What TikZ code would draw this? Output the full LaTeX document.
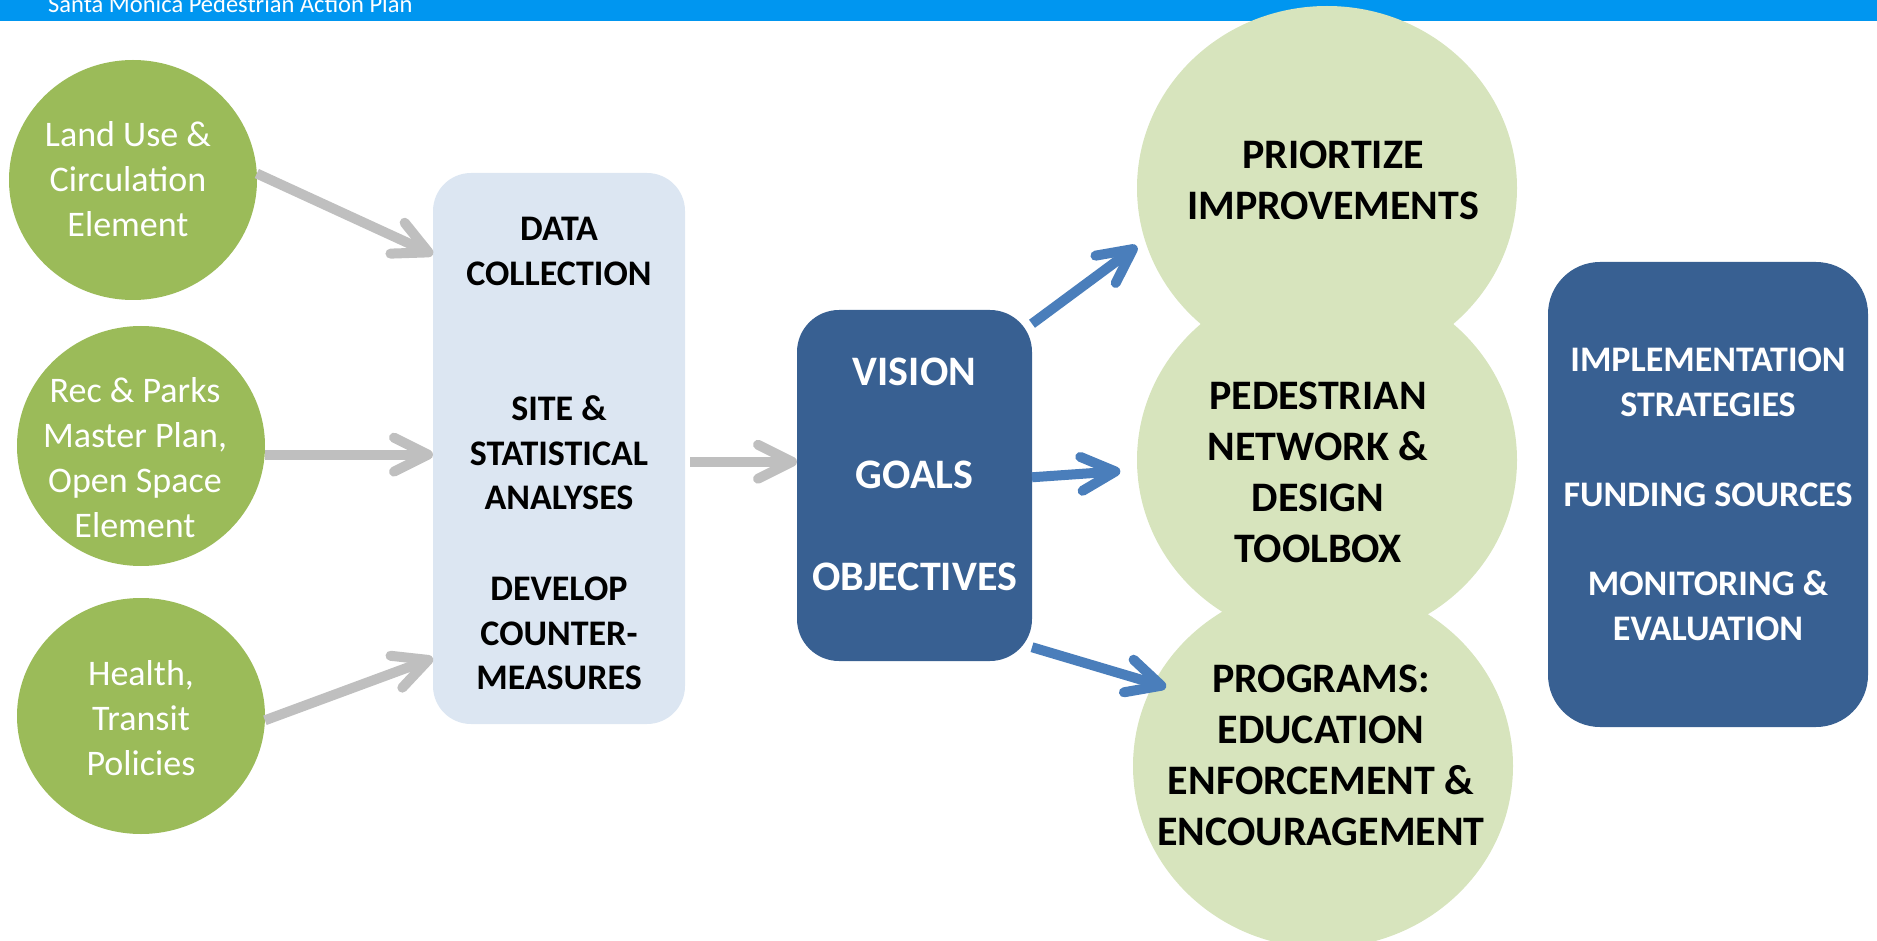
\documentclass[tikz,border=0pt]{standalone}
\usepackage{fontspec}
\setmainfont{Carlito}
\usetikzlibrary{shapes.geometric,arrows.meta}
\definecolor{barblue}{RGB}{0,150,240}
\definecolor{leafgreen}{RGB}{155,187,89}
\definecolor{palegreen}{RGB}{215,228,189}
\definecolor{paleblue}{RGB}{220,230,242}
\definecolor{deepblue}{RGB}{56,96,146}
\definecolor{arrowgray}{RGB}{191,191,191}
\definecolor{arrowblue}{RGB}{74,126,187}
\tikzstyle{greenball}=[ellipse,fill=leafgreen,inner sep=0pt,outer sep=0pt,minimum width=248pt,minimum height=240pt]
\tikzstyle{paleball}=[ellipse,fill=palegreen,inner sep=0pt,outer sep=0pt,minimum width=380pt,minimum height=364pt]
\tikzstyle{balltext}=[text=white,align=center,inner sep=0pt,font=\fontsize{36}{45}\selectfont]
\tikzstyle{bigtext}=[text=black,align=center,inner sep=0pt,font=\fontsize{42}{51}\selectfont\bfseries]
\tikzstyle{databox}=[rectangle,rounded corners=38pt,fill=paleblue,inner sep=0pt,outer sep=0pt,align=center,font=\fontsize{36}{44.6}\selectfont\bfseries]
\tikzstyle{darkbox}=[rectangle,fill=deepblue,text=white,inner sep=0pt,outer sep=0pt,align=center]
\tikzstyle{grayarrow}=[draw=arrowgray,line width=10pt,-{Straight Barb[length=34pt,width=34pt,round]}]
\tikzstyle{bluearrow}=[draw=arrowblue,line width=10pt,-{Straight Barb[length=34pt,width=34pt,round]}]

\begin{document}
\begin{tikzpicture}[x=1pt,y=-1pt]
\useasboundingbox (0,0) rectangle (1877,941);
\fill[barblue] (0,0) rectangle (1877,21);
\draw (48,13) node [anchor=base west,inner sep=0pt,text=white,font=\fontsize{24.5}{29}\selectfont] (title) {Santa Monica Pedestrian Action Plan};
\draw (133,180) node [greenball] (s1) {};
\draw (128,179.5) node [balltext] {Land Use \&\\Circulation\\Element};
\draw (141,446) node [greenball] (s2) {};
\draw (135,458) node [balltext] {Rec \& Parks\\Master Plan,\\Open Space\\Element};
\draw (141,716) node [greenball, minimum height=236pt] (s3) {};
\draw (141,718) node [balltext] {Health,\\Transit\\Policies};
\draw (559,448.5) node [databox, minimum width=252pt, minimum height=551pt] (data) {\rule{0pt}{34pt}DATA\\COLLECTION\\[90.4pt]SITE \&\\STATISTICAL\\ANALYSES\\[46.4pt]DEVELOP\\COUNTER-\\MEASURES};
\draw (914.5,485.5) node [darkbox, rounded corners=42pt, minimum width=235pt, minimum height=351pt, text depth=22pt, font=\fontsize{42}{51.5}\selectfont\bfseries] (vis) {VISION\\[51pt]GOALS\\[51pt]OBJECTIVES};
\draw (1327,188) node [paleball] (o1) {};
\draw (1327,460) node [paleball] (o2) {};
\draw (1323,766) node [paleball] (o3) {};
\draw (1333,180) node [bigtext] {PRIORTIZE\\IMPROVEMENTS};
\draw (1318,472) node [bigtext] {PEDESTRIAN\\NETWORK \&\\DESIGN\\TOOLBOX};
\draw (1321,755) node [bigtext] {PROGRAMS:\\EDUCATION\\ENFORCEMENT \&\\ENCOURAGEMENT};
\draw (1708,494.5) node [darkbox, rounded corners=52pt, minimum width=320pt, minimum height=465pt, font=\fontsize{36}{45}\selectfont\bfseries] (impl) {IMPLEMENTATION\\STRATEGIES\\[45pt]FUNDING SOURCES\\[44pt]MONITORING \&\\EVALUATION};
\draw[grayarrow] (s1.3) -- (data.123);
\draw[grayarrow] (s2.-4) -- (s2.-4 -| data.west);
\draw[grayarrow] (s3.-2) -- (data.239);
\draw[grayarrow] ([xshift=5pt]data.-6) -- (data.-6 -| vis.west);
\draw[bluearrow, shorten >=10pt] (vis.54) -- (o1.196);
\draw[bluearrow, shorten >=17pt] (vis.4) -- (o2.183);
\draw[bluearrow, shorten >=-13pt] (vis.-54) -- (o3.154);
\end{tikzpicture}
\end{document}
